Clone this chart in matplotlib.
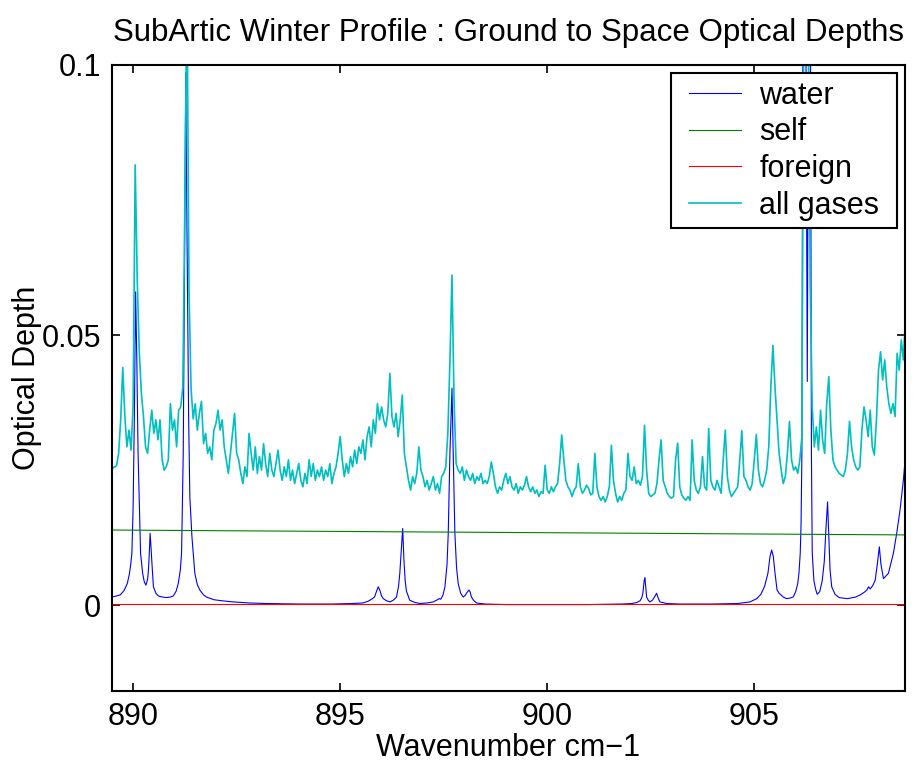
import numpy as np
import matplotlib
matplotlib.use("Agg")
import matplotlib.pyplot as plt
from matplotlib.patches import Rectangle

plt.rcParams['font.family'] = ['Liberation Sans', 'DejaVu Sans']

# water line optical depth (wavenumber, depth)
water_wn = [
    889.49, 889.60, 889.69, 889.78, 889.86, 889.91, 889.94, 889.97, 890.00, 890.03,
    890.06, 890.09, 890.12, 890.15, 890.18, 890.23, 890.27, 890.31, 890.35, 890.37,
    890.39, 890.41, 890.43, 890.45, 890.49, 890.55, 890.61, 890.70, 890.81, 890.90,
    890.97, 891.04, 891.09, 891.14, 891.17, 891.21, 891.24, 891.27, 891.30, 891.34,
    891.37, 891.42, 891.49, 891.55, 891.61, 891.70, 891.77, 891.95, 892.15, 892.41,
    892.80, 893.20, 894.00, 894.80, 895.30, 895.55, 895.67, 895.76, 895.83, 895.88,
    895.92, 895.96, 896.00, 896.04, 896.12, 896.20, 896.28, 896.36, 896.41, 896.44,
    896.48, 896.51, 896.54, 896.57, 896.60, 896.68, 896.80, 896.92, 897.10, 897.25,
    897.35, 897.39, 897.43, 897.48, 897.53, 897.58, 897.61, 897.65, 897.70, 897.73,
    897.77, 897.81, 897.85, 897.91, 897.97, 898.02, 898.05, 898.11, 898.14, 898.17,
    898.22, 898.29, 898.50, 899.00, 900.00, 901.00, 901.80, 902.05, 902.17, 902.24,
    902.28, 902.31, 902.34, 902.36, 902.38, 902.40, 902.44, 902.48, 902.54, 902.59,
    902.64, 902.68, 902.72, 902.88, 903.20, 904.00, 904.60, 904.90, 905.06, 905.16,
    905.25, 905.33, 905.38, 905.42, 905.46, 905.50, 905.55, 905.60, 905.70, 905.78,
    905.86, 905.94, 906.00, 906.05, 906.08, 906.11, 906.13, 906.15, 906.17, 906.21,
    906.25, 906.28, 906.31, 906.34, 906.36, 906.38, 906.40, 906.44, 906.48, 906.52,
    906.58, 906.64, 906.69, 906.73, 906.77, 906.80, 906.83, 906.87, 906.95, 907.05,
    907.25, 907.45, 907.56, 907.66, 907.72, 907.76, 907.80, 907.86, 907.92, 907.97,
    908.02, 908.06, 908.12, 908.24, 908.36, 908.44, 908.52, 908.60, 908.65,
]
water_od = [
    0.0015, 0.0017, 0.0019, 0.0027, 0.0040, 0.0058, 0.0074, 0.0096, 0.0180, 0.0350,
    0.0580, 0.0450, 0.0280, 0.0188, 0.0096, 0.0059, 0.0043, 0.0037, 0.0048, 0.0065,
    0.0095, 0.0133, 0.0110, 0.0083, 0.0034, 0.0022, 0.0017, 0.0015, 0.0014, 0.0015,
    0.0017, 0.0026, 0.0040, 0.0065, 0.0096, 0.0280, 0.0600, 0.0985, 0.0700, 0.0350,
    0.0200, 0.0127, 0.0059, 0.0038, 0.0028, 0.0019, 0.0015, 0.0010, 0.0008, 0.0006,
    0.0004, 0.0003, 0.0002, 0.0002, 0.0003, 0.0004, 0.0007, 0.0011, 0.0015, 0.0026,
    0.0034, 0.0027, 0.0017, 0.0012, 0.0008, 0.0006, 0.0009, 0.0015, 0.0035, 0.0059,
    0.0108, 0.0142, 0.0083, 0.0045, 0.0026, 0.0009, 0.0005, 0.0003, 0.0004, 0.0006,
    0.0010, 0.0012, 0.0011, 0.0018, 0.0034, 0.0075, 0.0133, 0.0280, 0.0402, 0.0280,
    0.0133, 0.0070, 0.0040, 0.0022, 0.0015, 0.0018, 0.0022, 0.0028, 0.0024, 0.0015,
    0.0009, 0.0004, 0.0002, 0.0001, 0.0001, 0.0001, 0.0002, 0.0003, 0.0005, 0.0008,
    0.0013, 0.0022, 0.0045, 0.0051, 0.0032, 0.0015, 0.0009, 0.0006, 0.0009, 0.0015,
    0.0022, 0.0013, 0.0006, 0.0003, 0.0002, 0.0002, 0.0003, 0.0006, 0.0012, 0.0020,
    0.0035, 0.0059, 0.0090, 0.0102, 0.0090, 0.0060, 0.0028, 0.0022, 0.0015, 0.0012,
    0.0013, 0.0015, 0.0025, 0.0040, 0.0060, 0.0096, 0.0150, 0.0280, 0.1000, 0.2000,
    0.1000, 0.0414, 0.1000, 0.2000, 0.1000, 0.0280, 0.0096, 0.0045, 0.0030, 0.0020,
    0.0025, 0.0045, 0.0080, 0.0140, 0.0191, 0.0130, 0.0065, 0.0034, 0.0020, 0.0014,
    0.0012, 0.0015, 0.0019, 0.0024, 0.0028, 0.0034, 0.0030, 0.0036, 0.0046, 0.0075,
    0.0108, 0.0075, 0.0049, 0.0059, 0.0096, 0.0133, 0.0176, 0.0231, 0.0275,
]

# water self and foreign continuum
cont_wn = [889.49, 908.65]
self_od = [0.0139, 0.0130]
foreign_od = [0.00012, 0.00012]

# all gases, sampled every 0.05 cm-1 starting at 889.50
all_start = 889.50
all_step = 0.05
all_od = [
    0.0253, 0.0256, 0.0258, 0.0281, 0.0343, 0.0440, 0.0350, 0.0293, 0.0324, 0.0287,
    0.0370, 0.0815, 0.0600, 0.0466, 0.0392, 0.0349, 0.0293, 0.0281, 0.0324, 0.0361,
    0.0318, 0.0343, 0.0306, 0.0343, 0.0269, 0.0250, 0.0256, 0.0269, 0.0373, 0.0324,
    0.0343, 0.0293, 0.0361, 0.0367, 0.0404, 0.0750, 0.1150, 0.0580, 0.0400, 0.0345,
    0.0373, 0.0324, 0.0355, 0.0377, 0.0299, 0.0318, 0.0281, 0.0293, 0.0269, 0.0324,
    0.0336, 0.0361, 0.0324, 0.0343, 0.0293, 0.0269, 0.0244, 0.0281, 0.0318, 0.0355,
    0.0281, 0.0269, 0.0244, 0.0225, 0.0256, 0.0238, 0.0318, 0.0281, 0.0250, 0.0293,
    0.0244, 0.0275, 0.0250, 0.0299, 0.0262, 0.0238, 0.0281, 0.0250, 0.0238, 0.0262,
    0.0287, 0.0250, 0.0231, 0.0256, 0.0238, 0.0269, 0.0231, 0.0250, 0.0225, 0.0244,
    0.0262, 0.0231, 0.0219, 0.0244, 0.0225, 0.0269, 0.0238, 0.0262, 0.0231, 0.0250,
    0.0238, 0.0256, 0.0231, 0.0250, 0.0238, 0.0262, 0.0225, 0.0244, 0.0256, 0.0281,
    0.0312, 0.0269, 0.0238, 0.0262, 0.0244, 0.0275, 0.0256, 0.0287, 0.0262, 0.0293,
    0.0281, 0.0306, 0.0269, 0.0312, 0.0330, 0.0293, 0.0343, 0.0318, 0.0373, 0.0343,
    0.0367, 0.0343, 0.0330, 0.0355, 0.0429, 0.0349, 0.0330, 0.0355, 0.0312, 0.0343,
    0.0389, 0.0281, 0.0256, 0.0231, 0.0213, 0.0238, 0.0225, 0.0244, 0.0293, 0.0250,
    0.0238, 0.0219, 0.0231, 0.0213, 0.0225, 0.0238, 0.0213, 0.0225, 0.0207, 0.0238,
    0.0244, 0.0256, 0.0318, 0.0450, 0.0611, 0.0380, 0.0262, 0.0250, 0.0244, 0.0256,
    0.0231, 0.0250, 0.0238, 0.0231, 0.0244, 0.0225, 0.0238, 0.0231, 0.0244, 0.0225,
    0.0231, 0.0225, 0.0238, 0.0265, 0.0244, 0.0219, 0.0207, 0.0219, 0.0213, 0.0231,
    0.0244, 0.0225, 0.0238, 0.0219, 0.0213, 0.0225, 0.0207, 0.0219, 0.0213, 0.0222,
    0.0238, 0.0219, 0.0210, 0.0219, 0.0207, 0.0213, 0.0201, 0.0210, 0.0207, 0.0259,
    0.0213, 0.0207, 0.0219, 0.0210, 0.0219, 0.0225, 0.0262, 0.0315, 0.0269, 0.0231,
    0.0219, 0.0213, 0.0201, 0.0213, 0.0219, 0.0262, 0.0219, 0.0207, 0.0213, 0.0222,
    0.0216, 0.0204, 0.0207, 0.0281, 0.0219, 0.0201, 0.0194, 0.0201, 0.0191, 0.0201,
    0.0219, 0.0296, 0.0231, 0.0207, 0.0191, 0.0201, 0.0194, 0.0207, 0.0213, 0.0281,
    0.0238, 0.0231, 0.0256, 0.0225, 0.0231, 0.0222, 0.0238, 0.0333, 0.0250, 0.0207,
    0.0201, 0.0204, 0.0207, 0.0225, 0.0269, 0.0306, 0.0231, 0.0219, 0.0207, 0.0201,
    0.0198, 0.0201, 0.0269, 0.0300, 0.0219, 0.0204, 0.0198, 0.0194, 0.0201, 0.0194,
    0.0306, 0.0231, 0.0213, 0.0207, 0.0219, 0.0275, 0.0219, 0.0213, 0.0327, 0.0231,
    0.0219, 0.0213, 0.0231, 0.0219, 0.0207, 0.0269, 0.0324, 0.0238, 0.0213, 0.0201,
    0.0207, 0.0213, 0.0219, 0.0269, 0.0323, 0.0238, 0.0231, 0.0219, 0.0213, 0.0225,
    0.0269, 0.0316, 0.0250, 0.0225, 0.0219, 0.0231, 0.0250, 0.0293, 0.0404, 0.0481,
    0.0404, 0.0343, 0.0281, 0.0250, 0.0225, 0.0238, 0.0281, 0.0340, 0.0269, 0.0250,
    0.0256, 0.0244, 0.0269, 0.0312, 0.1200, 0.1300, 0.1200, 0.0600, 0.0367, 0.0293,
    0.0330, 0.0287, 0.0361, 0.0306, 0.0281, 0.0373, 0.0423, 0.0324, 0.0269, 0.0256,
    0.0250, 0.0244, 0.0241, 0.0238, 0.0250, 0.0281, 0.0340, 0.0293, 0.0269, 0.0256,
    0.0250, 0.0256, 0.0324, 0.0367, 0.0343, 0.0312, 0.0361, 0.0293, 0.0278, 0.0343,
    0.0435, 0.0469, 0.0417, 0.0454, 0.0404, 0.0373, 0.0355, 0.0373, 0.0349, 0.0466,
    0.0435, 0.0491, 0.0454, 0.0528,
]
all_wn = all_start + all_step * np.arange(len(all_od))

xticks = [890, 895, 900, 905]
yticks = [0, 0.05, 0.1]
ytick_labels = ['0', '0.05', '0.1']

fs = 22

fig = plt.figure(figsize=(9.2, 7.63), dpi=100)
ax = fig.add_axes([112 / 920, 1 - 691 / 763, 793 / 920, 626 / 763])

ax.plot(water_wn, water_od, color='#0000ff', lw=0.8, label='water')
ax.plot(cont_wn, self_od, color='#008000', lw=0.8, label='self')
ax.plot(cont_wn, foreign_od, color='#ff0000', lw=0.8, label='foreign')
ax.plot(all_wn, all_od, color='#00bfbf', lw=1.2, label='all gases')

ax.set_xlim(889.49, 908.64)
ax.set_ylim(-0.0159, 0.1)
ax.set_xticks(xticks)
ax.set_xticklabels([str(t) for t in xticks])
ax.set_yticks(yticks)
ax.set_yticklabels(ytick_labels)
ax.tick_params(direction='in', length=6, width=1.2, top=True, right=True,
               labelsize=fs, pad=8)
for s in ax.spines.values():
    s.set_linewidth(1.5)

ax.set_xlabel('Wavenumber cm\u22121', fontsize=fs, labelpad=1)
ax.set_ylabel('Optical Depth', fontsize=fs)
ax.yaxis.set_label_coords((42 - 112) / 793, 0.5)
ax.set_title('SubArtic Winter Profile : Ground to Space Optical Depths',
             fontsize=22.5, pad=17)

# legend without its own frame; a wider box is drawn round it below
leg = ax.legend(loc='upper right', bbox_to_anchor=((887 - 112) / 793, (691 - 73) / 626),
                borderaxespad=0, fontsize=fs, frameon=False,
                handlelength=1.7, handletextpad=0.6, labelspacing=0.22,
                borderpad=0.25)

fig.canvas.draw()
bb = leg.get_window_extent()
box = Rectangle((bb.x0 - 10, bb.y0), bb.width + 20, bb.height,
                transform=None, facecolor='white', edgecolor='black',
                linewidth=1.5, zorder=4)
fig.add_artist(box)
leg.set_zorder(5)
leg.remove()
fig.add_artist(leg)

fig.savefig('out.png', dpi=100)
